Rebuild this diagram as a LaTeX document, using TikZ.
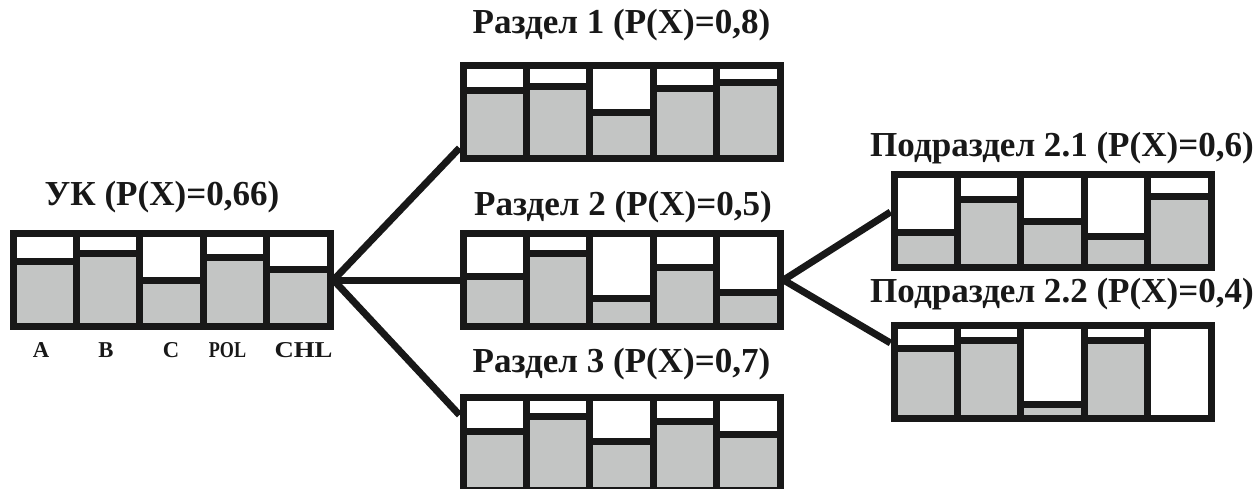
\documentclass[tikz,border=0pt]{standalone}
\usepackage{fontspec}
\setmainfont{Liberation Serif}
\usetikzlibrary{calc}
\definecolor{ink}{RGB}{24,24,24}
\definecolor{barfill}{RGB}{195,197,196}
\tikzset{
  chart/.style={draw=ink, line width=5.25pt, minimum width=237.75pt, minimum height=69.75pt, inner sep=0pt, fill=white},
  ttl/.style={font=\bfseries\fontsize{26.3}{30}\selectfont, anchor=base, inner sep=0pt, text=ink},
  lbl/.style={font=\bfseries\fontsize{17}{20}\selectfont, anchor=base, inner sep=0pt, text=ink},
  link/.style={draw=ink, line width=5.25pt},
  sep/.style={draw=ink, line width=5.25pt},
}
% \chart{name}{cx}{cy}{levels}
\newcommand\chart[4]{%
  \node[chart] (#1) at (#2,#3) {};
  \foreach \lv [count=\i] in {#4} {
    \pgfmathsetmacro\xl{#2-158.5+(\i-1)*63.4}
    \pgfmathsetmacro\xr{\xl+63.4}
    \pgfmathsetmacro\yb{#3+46.5}
    \pgfmathsetmacro\yl{\yb-\lv*93}
    \ifdim\lv pt>0pt
      \fill[barfill] (\xl+3.5,\yb-3.5) rectangle (\xr-3.5,\yl);
      \draw[sep] (\xl,\yl) -- (\xr,\yl);
    \fi
  }
  \foreach \k in {1,2,3,4} {
    \pgfmathsetmacro\xs{#2-158.5+\k*63.4}
    \draw[sep] (\xs,#3-46.5) -- (\xs,#3+46.5);
  }
}
\begin{document}
\begin{tikzpicture}[x=0.75pt,y=-0.75pt]
\useasboundingbox (0,0) rectangle (1258,489);

\chart{uk}{171.5}{280}{0.70,0.78,0.49,0.745,0.61}
\chart{r1}{621.5}{112}{0.73,0.77,0.49,0.75,0.815}
\chart{r2}{621.5}{280}{0.54,0.78,0.30,0.63,0.37}
\chart{r3}{621.5}{443.5}{0.63,0.785,0.52,0.74,0.60}
\chart{s1}{1052.5}{221}{0.38,0.73,0.50,0.33,0.76}
\chart{s2}{1052.5}{372}{0.75,0.84,0.15,0.84,0}

\node[ttl] (tuk) at (162,205) {УК (P(X)=0,66)};
\node[ttl] (tr1) at (621.5,33) {Раздел 1 (P(X)=0,8)};
\node[ttl] (tr2) at (623,215) {Раздел 2 (P(X)=0,5)};
\node[ttl] (tr3) at (621.5,372) {Раздел 3 (P(X)=0,7)};
\node[ttl] (ts1) at (1062,156) {Подраздел 2.1 (P(X)=0,6)};
\node[ttl] (ts2) at (1062,302) {Подраздел 2.2 (P(X)=0,4)};

\node[lbl] (la) at (41,357) {A};
\node[lbl] (lb) at (106,357) {B};
\node[lbl] (lc) at (171,357) {C};
\node[lbl] (lpol) at (227.5,357) {\scalebox{0.8}[1]{POL}};
\node[lbl] (lchl) at (303.5,357) {\scalebox{1.18}[1]{CHL}};

\coordinate (r1in) at ($(r1.south west)!0.14!(r1.north west)$);
\coordinate (r3in) at ($(r3.north west)!0.215!(r3.south west)$);
\coordinate (s1in) at ($(s1.north west)!0.41!(s1.south west)$);
\coordinate (s2in) at ($(s2.north west)!0.21!(s2.south west)$);

\draw[link] (uk.east) -- (r1in);
\draw[link] (uk.east) -- (r2.west);
\draw[link] (uk.east) -- (r3in);
\draw[link] (r2.east) -- (s1in);
\draw[link] (r2.east) -- (s2in);
\end{tikzpicture}
\end{document}
